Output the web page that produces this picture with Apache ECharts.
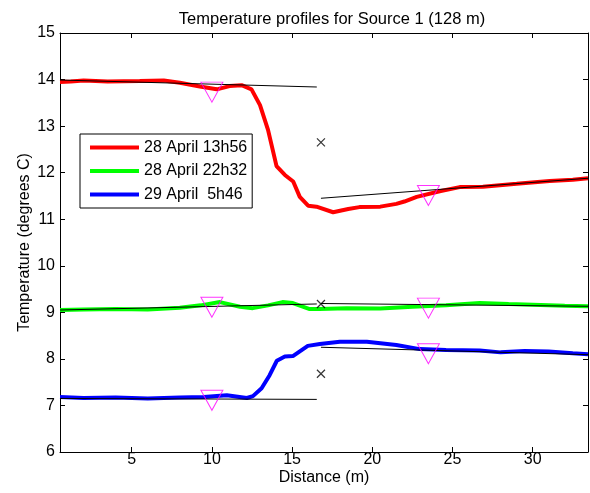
<!DOCTYPE html>
<html><head><meta charset="utf-8">
<script src="https://cdn.jsdelivr.net/npm/echarts@6/dist/echarts.min.js"></script>
<style>html,body{margin:0;padding:0;background:#fff}#c{width:590px;height:493px}</style>
</head><body><div id="c"></div>
<script>
var xTicks = [5, 10, 15, 20, 25, 30];
var yTicks = [6, 7, 8, 9, 10, 11, 12, 13, 14, 15];
var seriesNames = ['28 April 13h56', '28 April 22h32', '29 April  5h46'];

var redX = [0.53, 1.2, 2.0, 3.5, 5.5, 7.0, 8.0, 9.25, 10.3, 11.1, 11.85, 12.47, 13.0, 13.5, 14.03, 14.55, 15.07, 15.48, 16.0, 16.52, 17.56, 18.5, 19.2, 20.5, 21.5, 22.0, 22.77, 24.2, 25.45, 26.9, 29.0, 31.06, 32.5, 33.45];
var redY = [13.95, 13.96, 13.98, 13.96, 13.97, 13.98, 13.93, 13.85, 13.79, 13.86, 13.88, 13.79, 13.45, 12.92, 12.14, 11.95, 11.81, 11.48, 11.29, 11.27, 11.15, 11.22, 11.26, 11.27, 11.33, 11.38, 11.48, 11.6, 11.69, 11.7, 11.76, 11.82, 11.85, 11.88];

var greenX = [0.53, 2, 4, 6, 8, 9.3, 10.5, 11.75, 12.55, 13.5, 14.4, 15.05, 16.1, 16.7, 18.4, 20.5, 22.5, 24.6, 26.7, 28.5, 30.5, 32, 33.45];
var greenY = [9.05, 9.06, 9.07, 9.06, 9.10, 9.15, 9.22, 9.12, 9.09, 9.15, 9.22, 9.2, 9.07, 9.07, 9.09, 9.08, 9.12, 9.15, 9.2, 9.18, 9.16, 9.14, 9.13];

var blueX = [0.53, 2, 4, 6, 8, 9.5, 10.93, 12.18, 12.56, 13.1, 13.6, 14.05, 14.55, 15.05, 15.98, 16.73, 17.98, 19.66, 21.5, 22.96, 24.6, 26.7, 28, 29.5, 31, 32.5, 33.45];
var blueY = [7.18, 7.16, 7.17, 7.15, 7.17, 7.18, 7.22, 7.16, 7.2, 7.37, 7.65, 7.96, 8.05, 8.06, 8.28, 8.32, 8.37, 8.37, 8.3, 8.21, 8.19, 8.18, 8.14, 8.17, 8.16, 8.12, 8.1];

// fitted lines: [x1, y1, x2, y2]
var redFit1 = [0.53, 13.99, 16.54, 13.84];
var redFit2 = [16.8, 11.45, 33.45, 11.88];
var greenFit1 = [0.53, 9.05, 16.54, 9.18];
var greenFit2 = [16.8, 9.19, 33.45, 9.13];
var blueFit1 = [0.53, 7.15, 16.54, 7.13];
var blueFit2 = [16.8, 8.25, 33.45, 8.09];

var crossX = [16.8, 16.8, 16.8];
var crossY = [12.65, 9.18, 7.68];

var triX = [10.0, 23.5, 10.0, 23.5, 10.0, 23.5];
var triY = [13.73, 11.51, 9.11, 9.09, 7.11, 8.11];

function zip(xs, ys) { return xs.map(function (x, i) { return [x, ys[i]]; }); }
function seg(f) { return [[f[0], f[1]], [f[2], f[3]]]; }

var font = 'Liberation Sans, Arial, Helvetica, sans-serif';
var colors = ['#ff0000', '#00ff00', '#0000ff'];
var curves = [zip(redX, redY), zip(greenX, greenY), zip(blueX, blueY)];
var fits = [redFit1, redFit2, greenFit1, greenFit2, blueFit1, blueFit2];

var series = [];
curves.forEach(function (d, i) {
  series.push({ name: seriesNames[i], type: 'line', data: d, showSymbol: false, symbol: 'none',
    lineStyle: { color: colors[i], width: 4 }, itemStyle: { color: colors[i] }, z: 2, silent: true, animation: false });
});
fits.forEach(function (f) {
  series.push({ type: 'line', data: seg(f), showSymbol: false, symbol: 'none',
    lineStyle: { color: '#000', width: 1 }, z: 3, silent: true, animation: false });
});
series.push({ type: 'scatter', data: zip(crossX, crossY), symbol: 'path://M0,0L10,10M10,0L0,10', symbolSize: 8,
  itemStyle: { color: 'rgba(0,0,0,0)', borderColor: '#000', borderWidth: 1.2 }, z: 4, silent: true, animation: false });
series.push({ type: 'scatter', data: zip(triX, triY), symbol: 'triangle', symbolRotate: 180, symbolSize: [22, 20],
  itemStyle: { color: 'rgba(0,0,0,0)', borderColor: '#ff00ff', borderWidth: 1 }, z: 5, silent: true, animation: false });

var axisLine = { show: true, lineStyle: { color: '#000', width: 1 } };
var chart = echarts.init(document.getElementById('c'), null, { renderer: 'canvas' });
chart.setOption({
  animation: false,
  backgroundColor: '#fff',
  title: { text: 'Temperature profiles for Source 1 (128 m)', left: 327, top: 6, textAlign: 'center',
    textStyle: { fontFamily: font, fontSize: 16.5, fontWeight: 'normal', color: '#000' } },
  grid: { left: 60, right: 2, top: 33, bottom: 41, containLabel: false, outerBoundsMode: 'none' },
  legend: {
    data: seriesNames, left: 80, top: 134, orient: 'vertical', itemWidth: 49, itemHeight: 16, itemGap: 7.5,
    padding: [5.5, 5, 5.5, 10], borderColor: '#000', borderWidth: 1, backgroundColor: '#fff',
    textStyle: { fontFamily: font, fontSize: 16, color: '#000', padding: [0, 0, 0, 0] },
    icon: 'path://M0,0L50,0L50,4L0,4Z', selectedMode: false
  },
  xAxis: [{
    type: 'value', min: 0.53, max: 33.45, position: 'bottom',
    name: 'Distance (m)', nameLocation: 'middle', nameGap: 18, nameMoveOverlap: false,
    nameTextStyle: { fontFamily: font, fontSize: 16, color: '#000' },
    axisLine: axisLine, splitLine: { show: false },
    axisTick: { inside: true, length: 5, customValues: xTicks, lineStyle: { color: '#000' } },
    axisLabel: { customValues: xTicks, fontFamily: font, fontSize: 16, color: '#000', margin: 0 }
  }, {
    type: 'value', min: 0.53, max: 33.45, position: 'top',
    axisLine: axisLine, splitLine: { show: false },
    axisTick: { inside: true, length: 5, customValues: xTicks, lineStyle: { color: '#000' } },
    axisLabel: { show: false }
  }],
  yAxis: [{
    type: 'value', min: 6, max: 15, interval: 1, position: 'left',
    name: 'Temperature (degrees C)', nameLocation: 'middle', nameGap: 27, nameMoveOverlap: false,
    nameTextStyle: { fontFamily: font, fontSize: 16, color: '#000' },
    axisLine: axisLine, splitLine: { show: false },
    axisTick: { inside: true, length: 5, lineStyle: { color: '#000' } },
    axisLabel: { fontFamily: font, fontSize: 16, color: '#000', margin: 5 }
  }, {
    type: 'value', min: 6, max: 15, interval: 1, position: 'right',
    axisLine: axisLine, splitLine: { show: false },
    axisTick: { inside: true, length: 5, lineStyle: { color: '#000' } },
    axisLabel: { show: false }
  }],
  series: series
});
</script></body></html>
